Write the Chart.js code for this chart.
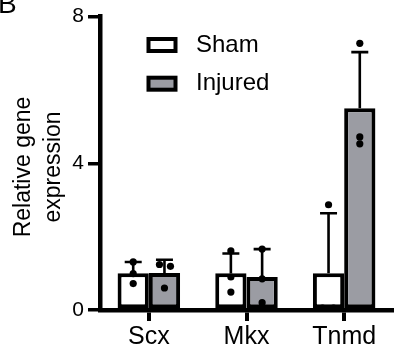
<!DOCTYPE html>
<html>
<head>
<meta charset="utf-8">
<script src="https://cdn.jsdelivr.net/npm/chart.js@4.4.0/dist/chart.umd.min.js"></script>
<style>
  html, body { margin: 0; padding: 0; background: #fff; }
  #wrap { width: 394px; height: 349px; }
</style>
</head>
<body>
<div id="wrap"><canvas id="c" width="394" height="349"></canvas></div>
<script>
// ---- data ----
const categories = ['Scx', 'Mkx', 'Tnmd'];
const seriesNames = ['Sham', 'Injured'];
const shamMean = [1.0, 1.0, 1.0];
const injuredMean = [1.01, 0.90, 5.50];
const shamSD = [0.31, 0.54, 1.64];
const injuredSD = [0.36, 0.76, 1.53];
const shamPoints = [[1.31, 0.99, 0.72], [1.61, 0.90, 0.49], [2.87, 0.05, 0.05]];
const injuredPoints = [[1.24, 1.19, 0.60], [1.66, 0.85, 0.20], [7.27, 4.72, 4.53]];
const yTicks = [0, 4, 8];
const yTitle = ['Relative gene', 'expression'];
const panelLabel = 'B';

// ---- styles ----
const FONT = "'Liberation Sans', Arial, Helvetica, sans-serif";
const fills = ['#ffffff', '#9b9ca3'];
const jitter = [
  [[0, 0, 0], [0, 0, 0], [0, -6, 5]],
  [[-5, 6, 0], [0, 0, 0], [0, 0, 0]]
];

const errorsAndDots = {
  id: 'errorsAndDots',
  afterDatasetsDraw(chart) {
    const ctx = chart.ctx;
    const y = chart.scales.y;
    const sds = [shamSD, injuredSD];
    const means = [shamMean, injuredMean];
    const pts = [shamPoints, injuredPoints];
    ctx.save();
    chart.data.datasets.forEach((ds, i) => {
      const meta = chart.getDatasetMeta(i);
      meta.data.forEach((el, j) => {
        const top = y.getPixelForValue(means[i][j] + sds[i][j]);
        ctx.strokeStyle = '#000';
        ctx.lineWidth = 2.6;
        ctx.beginPath();
        ctx.moveTo(el.x, el.y);
        ctx.lineTo(el.x, top);
        ctx.moveTo(el.x - 8.5, top);
        ctx.lineTo(el.x + 8.5, top);
        ctx.stroke();
      });
    });
    chart.data.datasets.forEach((ds, i) => {
      const meta = chart.getDatasetMeta(i);
      meta.data.forEach((el, j) => {
        pts[i][j].forEach((v, k) => {
          ctx.fillStyle = '#000';
          ctx.beginPath();
          ctx.arc(el.x + jitter[i][j][k], y.getPixelForValue(v), 3.6, 0, Math.PI * 2);
          ctx.fill();
        });
      });
    });
    ctx.restore();
  }
};

const decorations = {
  id: 'decorations',
  afterDraw(chart) {
    const ctx = chart.ctx;
    ctx.save();
    // legend
    chart.data.datasets.forEach((ds, i) => {
      const by = 39 + i * 38.7;
      ctx.fillStyle = ds.backgroundColor;
      ctx.fillRect(148.5, by, 27, 12);
      ctx.strokeStyle = '#000';
      ctx.lineWidth = 4;
      ctx.strokeRect(148.5, by, 27, 12);
      ctx.fillStyle = '#000';
      ctx.font = '24px ' + FONT;
      ctx.textAlign = 'left';
      ctx.textBaseline = 'middle';
      ctx.fillText(ds.label, 196, by + 6);
    });
    // y title
    ctx.translate(0, 167);
    ctx.rotate(-Math.PI / 2);
    ctx.font = '23px ' + FONT;
    ctx.textAlign = 'center';
    ctx.textBaseline = 'alphabetic';
    ctx.fillStyle = '#000';
    ctx.fillText(yTitle[0], 0, 30);
    ctx.fillText(yTitle[1], 0, 60);
    ctx.restore();
    // panel label
    ctx.save();
    ctx.font = '28px ' + FONT;
    ctx.fillStyle = '#000';
    ctx.textAlign = 'left';
    ctx.textBaseline = 'alphabetic';
    ctx.fillText(panelLabel, -2, 13);
    ctx.restore();
  }
};

new Chart(document.getElementById('c'), {
  type: 'bar',
  data: {
    labels: categories,
    datasets: [
      { label: seriesNames[0], data: shamMean, backgroundColor: fills[0], borderColor: '#000', borderWidth: 4, borderSkipped: false },
      { label: seriesNames[1], data: injuredMean, backgroundColor: fills[1], borderColor: '#000', borderWidth: 4, borderSkipped: false }
    ]
  },
  options: {
    responsive: false,
    animation: false,
    devicePixelRatio: 1,
    layout: { padding: { top: 15, right: 1, left: 0, bottom: 0 } },
    datasets: { bar: { categoryPercentage: 0.64, barPercentage: 1.0 } },
    plugins: { legend: { display: false }, tooltip: { enabled: false } },
    scales: {
      x: {
        grid: { display: true, offset: false, drawOnChartArea: false, drawTicks: true, tickLength: 11, lineWidth: 4, color: '#000' },
        border: { display: true, width: 4.5, color: '#000' },
        ticks: { color: '#000', font: { size: 25, family: FONT }, padding: 1, maxRotation: 0 },
        afterFit(s) { s.height = 39; }
      },
      y: {
        min: 0, max: 8,
        afterBuildTicks(s) { s.ticks = yTicks.map(v => ({ value: v })); },
        grid: { display: true, drawOnChartArea: false, drawTicks: true, tickLength: 12, lineWidth: 3.5, color: '#000' },
        border: { display: true, width: 4.5, color: '#000' },
        ticks: { color: '#000', font: { size: 21, family: FONT }, padding: 4 },
        afterFit(s) { s.width = 100; }
      }
    }
  },
  plugins: [errorsAndDots, decorations]
});
</script>
</body>
</html>
